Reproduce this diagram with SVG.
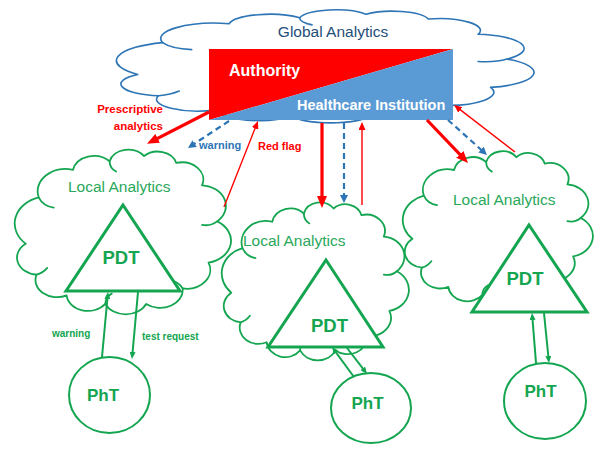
<svg xmlns="http://www.w3.org/2000/svg" width="594" height="450" viewBox="0 0 594 450">
<style>
text{font-family:"Liberation Sans",Arial,sans-serif}
.b{font-weight:bold}
.co,.ci{vector-effect:non-scaling-stroke;stroke-linejoin:round;stroke-linecap:round}
.ci{fill:none}
.gc{fill:#fff;stroke:#2e75b6;stroke-width:1.6}
.lc{fill:none;stroke:#14a550;stroke-width:1.8}
.la{fill:#2aa85a;font-size:15.5px}
.tri{fill:#fff;stroke:#14a550;stroke-width:3}
.pht{fill:#fff;stroke:#14a550;stroke-width:2}
.gt{fill:#14a550;font-weight:bold}
.rt{stroke:#f00;stroke-width:3.2;fill:none}
.rn{stroke:#f00;stroke-width:1.4;fill:none}
.bd{stroke:#2e75b6;stroke-width:2.2;stroke-dasharray:6 4;fill:none}
.ga{stroke:#14a550;stroke-width:2;fill:none}
</style>
<defs>
<g id="cloud">
<path class="co" d="M5 58A16 16 0 0 1 11 31A13 13 0 0 1 27 15A10 10 0 0 1 44 10A9 9 0 0 1 60 7A9 9 0 0 1 75 11A10 10 0 0 1 87 24A12 12 0 0 1 94 45A13 13 0 0 1 90 69A11 11 0 0 1 78 84A10.5 10.5 0 0 1 61 93A10.5 10.5 0 0 1 42 93A10 10 0 0 1 24 88A10 10 0 0 1 10 76A10 10 0 0 1 5 58Z"/>
<path class="ci" d="M11 31q2 5 7 6M44 10q0 4 3 6M94 45q-3 3-7 2M78 84q-2-4-6-5M42 93q0-4 3-6M10 76q3-1 5-4"/>
</g>
<marker id="mr" viewBox="0 0 12 10" markerWidth="12" markerHeight="10" refX="6" refY="5" orient="auto" markerUnits="userSpaceOnUse"><path d="M0,0L12,5L0,10z" fill="#f00"/></marker>
<marker id="mrs" viewBox="0 0 8 7" markerWidth="8" markerHeight="7" refX="4" refY="3.5" orient="auto" markerUnits="userSpaceOnUse"><path d="M0,0L8,3.5L0,7z" fill="#f00"/></marker>
<marker id="mb" viewBox="0 0 8 8" markerWidth="8" markerHeight="8" refX="4" refY="4" orient="auto" markerUnits="userSpaceOnUse"><path d="M0,0L8,4L0,8z" fill="#2e75b6"/></marker>
<marker id="mg" viewBox="0 0 7 6" markerWidth="7" markerHeight="6" refX="3.5" refY="3" orient="auto" markerUnits="userSpaceOnUse"><path d="M0,0L7,3L0,6z" fill="#14a550"/></marker>
</defs>

<g id="global-analytics">
<use href="#cloud" class="gc" transform="translate(117,6) scale(4.15,1.18)"/>
<text x="333" y="37" text-anchor="middle" font-size="15.5" fill="#1f4e79">Global Analytics</text>
</g>
<g id="authority-healthcare">
<polygon points="209,49 453,49 209,120" fill="#f00"/>
<polygon points="453,49 453,120 209,120" fill="#5b9bd5"/>
<text x="229" y="76" class="b" font-size="16" fill="#fff">Authority</text>
<text x="297" y="110" class="b" font-size="14.5" fill="#fff">Healthcare Institution</text>
</g>

<g id="local-analytics-1">
<use href="#cloud" class="lc" transform="translate(15,144) scale(2.15,1.72)"/>
<text x="68" y="192" class="la">Local Analytics</text>
</g>
<g id="local-analytics-2">
<use href="#cloud" class="lc" transform="translate(222,197) scale(1.86,1.65)"/>
<text x="243" y="246" class="la">Local Analytics</text>
</g>
<g id="local-analytics-3">
<use href="#cloud" class="lc" transform="translate(403,146) scale(1.89,1.6)"/>
<text x="453" y="205" class="la">Local Analytics</text>
</g>

<g id="pdt-1">
<polygon class="tri" points="123,205 180,291 66,291"/>
<text x="121" y="264" text-anchor="middle" class="gt" font-size="18.5">PDT</text>
</g>
<g id="pdt-2">
<polygon class="tri" points="326,260 383,347 268,347"/>
<text x="329.5" y="332" text-anchor="middle" class="gt" font-size="18.5">PDT</text>
</g>
<g id="pdt-3">
<polygon class="tri" points="529,225 587,312 472,312"/>
<text x="525" y="285" text-anchor="middle" class="gt" font-size="18.5">PDT</text>
</g>

<g id="pht-1">
<ellipse class="pht" cx="109.5" cy="395" rx="40.5" ry="38"/>
<text x="103" y="401" text-anchor="middle" class="gt" font-size="17">PhT</text>
</g>
<g id="pht-2">
<ellipse class="pht" cx="371" cy="408" rx="40" ry="35"/>
<text x="367.5" y="409" text-anchor="middle" class="gt" font-size="17">PhT</text>
</g>
<g id="pht-3">
<ellipse class="pht" cx="545" cy="401" rx="41" ry="38"/>
<text x="540.5" y="397" text-anchor="middle" class="gt" font-size="17">PhT</text>
</g>

<g id="connectors">
<line class="rt" x1="209" y1="112" x2="152.3" y2="141.1" marker-end="url(#mr)"/>
<line class="bd" x1="229" y1="121" x2="191.3" y2="145.8" marker-end="url(#mb)"/>
<line class="rn" x1="224" y1="207" x2="256.5" y2="124.7" marker-end="url(#mrs)"/>
<line class="rt" x1="322" y1="123" x2="322" y2="202" marker-end="url(#mr)"/>
<line class="bd" x1="344" y1="123" x2="344" y2="199" marker-end="url(#mb)"/>
<line class="rn" x1="362" y1="205" x2="362" y2="126" marker-end="url(#mrs)"/>
<line class="rt" x1="427" y1="120" x2="463.9" y2="158.7" marker-end="url(#mr)"/>
<line class="bd" x1="448" y1="120" x2="484" y2="152.3" marker-end="url(#mb)"/>
<line class="rn" x1="515" y1="152" x2="457.2" y2="107.4" marker-end="url(#mrs)"/>
<line class="ga" x1="102" y1="357" x2="107.7" y2="295.5" marker-end="url(#mg)"/>
<line class="ga" x1="138" y1="292" x2="132.3" y2="355.5" marker-end="url(#mg)"/>
<line class="ga" x1="354" y1="377" x2="334.1" y2="349.8" marker-end="url(#mg)"/>
<line class="ga" x1="347" y1="348" x2="364.9" y2="371.2" marker-end="url(#mg)"/>
<line class="ga" x1="536" y1="363" x2="532.3" y2="316.5" marker-end="url(#mg)"/>
<line class="ga" x1="544" y1="313" x2="548.65" y2="359.5" marker-end="url(#mg)"/>
</g>

<g id="labels">
<text x="163" y="113" text-anchor="end" class="b" font-size="11.5" fill="#f00">Prescriptive</text>
<text x="163" y="130" text-anchor="end" class="b" font-size="11.5" fill="#f00">analytics</text>
<text x="199" y="149" class="b" font-size="11" fill="#2e75b6">warning</text>
<text x="258" y="150" class="b" font-size="11" fill="#f00">Red flag</text>
<text x="52" y="337" class="gt" font-size="10">warning</text>
<text x="142" y="340" class="gt" font-size="10">test request</text>
</g>
</svg>
